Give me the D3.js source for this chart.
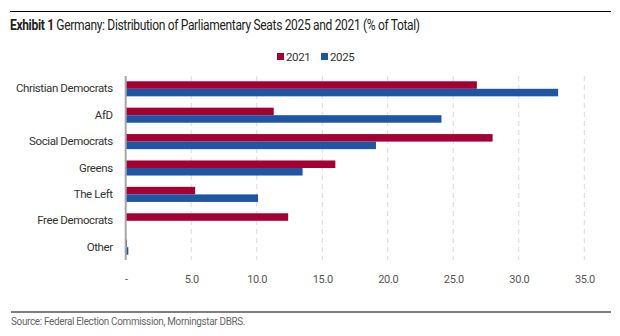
<!DOCTYPE html>
<html>
<head>
<meta charset="utf-8">
<title>Germany seats</title>
<script src="https://d3js.org/d3.v7.min.js"></script>
<style>
    body { margin: 0; background: #fff; }
    svg text { font-family: Roboto, "Liberation Sans", sans-serif; }
</style>
</head>
<body>
<svg class="chart"></svg>
<script>
    // data
    var parties = ["Christian Democrats", "AfD", "Social Democrats", "Greens", "The Left", "Free Democrats", "Other"];
    var seats2021 = [26.8, 11.3, 28.0, 16.0, 5.3, 12.4, 0.1];
    var seats2025 = [33.0, 24.1, 19.1, 13.5, 10.1, 0.0, 0.2];
    var years = ["2021", "2025"];
    var ticks = [0, 5, 10, 15, 20, 25, 30, 35];

    var colors = { "2021": "#a50034", "2025": "#1f55a5" };
    var W = 620, H = 336;
    var svg = d3.select(".chart").attr("width", W).attr("height", H);

    // rules
    svg.append("line").attr("x1", 10).attr("x2", 611).attr("y1", 11.5).attr("y2", 11.5)
        .attr("stroke", "#000").attr("stroke-width", 1.2);
    svg.append("line").attr("x1", 11).attr("x2", 611).attr("y1", 312).attr("y2", 312)
        .attr("stroke", "#000").attr("stroke-width", 1.2);

    // narrow look: squeeze the title horizontally
    var title = svg.append("text").attr("transform", "translate(10,30) scale(0.83,1)")
        .attr("font-size", 14.5).attr("fill", "#222").attr("letter-spacing", -0.4);
    title.append("tspan").attr("font-weight", "bold").text("Exhibit 1 ");
    title.append("tspan").text("Germany: Distribution of Parliamentary Seats 2025 and 2021 (% of Total)");

    svg.append("text").attr("transform", "translate(11,325) scale(0.9,1)").attr("font-size", 11)
        .attr("fill", "#666").attr("letter-spacing", -0.35)
        .text("Source: Federal Election Commission, Morningstar DBRS.");

    var x = d3.scaleLinear().domain([0, 35]).range([125.7, 584.3]);
    var y = d3.scaleBand().domain(parties).range([76, 260]).paddingInner(0.43).paddingOuter(0.2);
    var y1 = d3.scaleBand().domain(years).range([0, y.bandwidth()]);

    // gridlines
    svg.append("g").selectAll("line").data(ticks.slice(1)).enter().append("line")
        .attr("x1", function (d) { return x(d); }).attr("x2", function (d) { return x(d); })
        .attr("y1", 76).attr("y2", 260)
        .attr("stroke", "#d9d9d9").attr("stroke-dasharray", "5,4");

    // x tick labels
    var xAxis = d3.axisBottom(x).tickValues(ticks).tickSize(0)
        .tickFormat(function (d) { return d === 0 ? "-" : d3.format(".1f")(d); });
    var gx = svg.append("g").attr("transform", "translate(0,272)").call(xAxis);
    gx.select(".domain").remove();
    gx.selectAll("text").attr("font-size", 11).attr("fill", "#555").attr("letter-spacing", -0.4)
        .style("font-family", "Roboto, sans-serif");

    // bars
    var rows = parties.map(function (p, i) {
        return { party: p, values: [{ year: "2021", v: seats2021[i] }, { year: "2025", v: seats2025[i] }] };
    });
    var g = svg.append("g").selectAll("g").data(rows).enter().append("g")
        .attr("transform", function (d) { return "translate(0," + y(d.party) + ")"; });
    g.selectAll("rect").data(function (d) { return d.values; }).enter().append("rect")
        .attr("x", x(0))
        .attr("y", function (d) { return y1(d.year); })
        .attr("height", y1.bandwidth())
        .attr("width", function (d) { return x(d.v) - x(0); })
        .attr("fill", function (d) { return colors[d.year]; });

    // y axis labels
    var yAxis = d3.axisLeft(y).tickSize(0).tickPadding(13);
    var gy = svg.append("g").attr("transform", "translate(" + x(0) + ",0)").call(yAxis);
    gy.select(".domain").remove();
    gy.selectAll("text").attr("font-size", 11.5).attr("fill", "#333").attr("letter-spacing", -0.4)
        .style("font-family", "Roboto, sans-serif");
    svg.append("line").attr("x1", x(0)).attr("x2", x(0)).attr("y1", 76).attr("y2", 260)
        .attr("stroke", "#a6a6a6").attr("stroke-width", 2);

    // legend
    var leg = svg.append("g").selectAll("g").data(years).enter().append("g")
        .attr("transform", function (d, i) { return "translate(" + (277 + i * 44) + ",53)"; });
    leg.append("rect").attr("width", 7).attr("height", 7)
        .attr("fill", function (d) { return colors[d]; });
    leg.append("text").attr("x", 9).attr("y", 7.5).attr("font-size", 11.5).attr("fill", "#333")
        .attr("letter-spacing", -0.4).text(function (d) { return d; });
</script>
</body>
</html>
